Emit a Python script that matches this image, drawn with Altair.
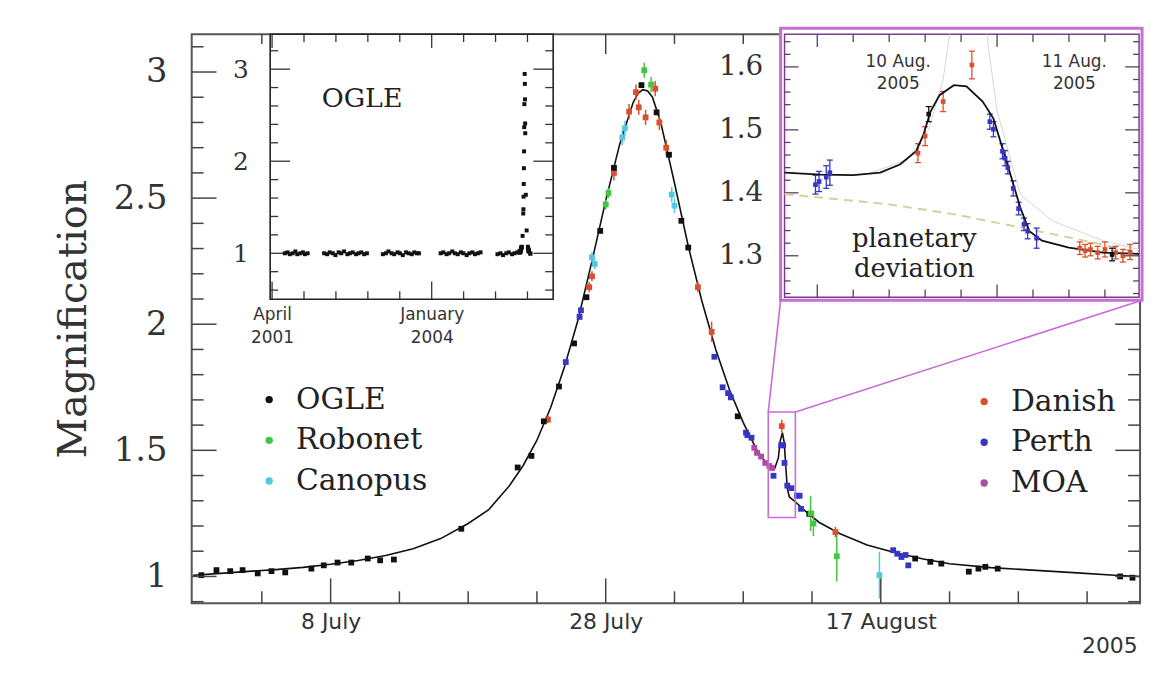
import altair as alt
import pandas as pd

# ================= values =================
# Main panel: time = HJD - 2453000  (8 July = 560, 28 July = 580, 17 August = 600)
CURVE_T = [550.0, 552, 554, 556, 558, 560, 562, 564, 566, 568,
           570, 571.5, 573, 574, 575, 576, 577, 578, 579, 580,
           581, 582, 582.35, 582.7, 583.05, 583.4, 584, 585, 586, 587,
           588, 589, 590, 591, 591.8, 592.3, 592.55, 592.7, 592.85, 592.98,
           593.1, 593.2, 593.35, 593.7, 594.5, 595.5, 597, 599, 601, 603,
           605, 608, 611, 614, 617, 618.85]
CURVE_A = [1.005, 1.012, 1.02, 1.027, 1.036, 1.048, 1.063, 1.083, 1.11, 1.15,
           1.21, 1.265, 1.36, 1.44, 1.54, 1.67, 1.83, 2.02, 2.25, 2.49,
           2.71, 2.88, 2.915, 2.93, 2.925, 2.90, 2.80, 2.56, 2.31, 2.09,
           1.90, 1.74, 1.61, 1.50, 1.44, 1.43, 1.47, 1.54, 1.57, 1.53,
           1.43, 1.35, 1.315, 1.30, 1.26, 1.215, 1.17, 1.125, 1.095, 1.07,
           1.05, 1.035, 1.025, 1.015, 1.005, 1.0]

OGLE_T = [550.6, 551.7, 552.7, 553.6, 554.7, 555.7, 556.7, 558.6, 559.5, 560.5,
          561.5, 562.7, 563.6, 564.6, 569.5, 573.6, 574.6, 575.5, 576.6, 577.7,
          578.6, 579.6, 580.6, 582.6, 583.7, 584.6, 585.5, 586.0, 589.6, 594.8,
          602.5, 603.6, 604.4, 606.4, 607.1, 607.6, 608.5, 617.4, 618.3]
OGLE_A = [1.005, 1.025, 1.021, 1.025, 1.012, 1.021, 1.016, 1.031, 1.044, 1.055,
          1.055, 1.071, 1.064, 1.067, 1.189, 1.432, 1.478, 1.615, 1.753, 1.924,
          2.107, 2.37, 2.62, 2.948, 2.84, 2.672, 2.41, 2.304, 1.635, 1.248,
          1.071, 1.058, 1.051, 1.019, 1.031, 1.038, 1.031, 1.0, 0.995]

ROBONET_T = [580.0, 580.2, 582.8, 583.3, 594.9, 595.1, 596.8]
ROBONET_A = [2.475, 2.52, 3.007, 2.95, 1.25, 1.21, 1.08]
ROBONET_E = [0.02, 0.02, 0.03, 0.03, 0.07, 0.05, 0.10]

CANOPUS_T = [579.0, 579.2, 581.2, 581.4, 584.8, 585.0, 599.9]
CANOPUS_A = [2.265, 2.239, 2.74, 2.777, 2.514, 2.47, 1.005]
CANOPUS_E = [0.02, 0.02, 0.03, 0.03, 0.03, 0.03, 0.093]

DANISH_T = [575.8, 578.8, 579.0, 580.6, 581.7, 582.2, 582.4, 582.9, 583.6, 583.9,
            584.4, 586.7, 587.7, 592.8, 596.7]
DANISH_A = [1.622, 2.147, 2.19, 2.60, 2.843, 2.92, 2.86, 2.82, 2.934, 2.80,
            2.70, 2.147, 1.97, 1.596, 1.176]
DANISH_E = [0.015, 0.02, 0.02, 0.03, 0.03, 0.03, 0.03, 0.03, 0.03, 0.03,
            0.03, 0.02, 0.04, 0.025, 0.02]

PERTH_T = [577.1, 578.1, 578.2, 587.9, 588.5, 588.9, 589.1, 590.2, 590.3, 590.6,
           592.2, 592.75, 592.9, 593.0, 593.2, 593.5, 593.9, 594.1, 594.2, 600.9,
           601.2, 601.5, 601.8, 602.0]
PERTH_A = [1.85, 2.029, 2.055, 1.871, 1.75, 1.727, 1.71, 1.57, 1.56, 1.55,
           1.399, 1.52, 1.52, 1.45, 1.36, 1.35, 1.32, 1.32, 1.268, 1.104,
           1.09, 1.077, 1.085, 1.044]

MOA_T = [590.8, 591.0, 591.3, 591.6, 591.9, 592.1]
MOA_A = [1.51, 1.49, 1.475, 1.45, 1.438, 1.43]

# OGLE archive (inset): time = HJD - 2450000
SEASON_T = [2080, 2097, 2111, 2129, 2146, 2158, 2177, 2193, 2206, 2223,
            2326, 2345, 2361, 2381, 2397, 2417, 2433, 2451, 2472, 2487, 2505, 2526, 2541, 2559, 2577, 2594,
            2694, 2713, 2729, 2749, 2765, 2786, 2801, 2819, 2839, 2855, 2875, 2891, 2908, 2920,
            3056, 3073, 3093, 3109, 3129, 3145, 3163, 3183, 3199, 3219, 3235, 3255, 3271, 3289, 3306,
            3412, 3431, 3447, 3467, 3483, 3503, 3519, 3537, 3551]
SEASON_A = [1.00, 1.01, 0.99, 1.00, 1.02, 0.99, 1.00, 1.01, 0.99, 1.00,
            1.00, 0.99, 1.01, 1.00, 0.98, 1.01, 1.00, 1.02, 0.99, 1.00, 1.01, 0.99, 1.00, 1.01, 0.99, 1.00,
            0.99, 1.00, 1.02, 1.00, 0.99, 1.01, 1.00, 0.98, 1.01, 1.00, 0.99, 1.01, 1.00, 1.00,
            1.00, 1.01, 0.99, 1.00, 1.02, 1.00, 0.99, 1.01, 1.00, 0.98, 1.00, 1.01, 0.99, 1.00, 1.01,
            0.99, 1.00, 0.98, 1.00, 1.01, 0.99, 1.00, 1.01, 1.02]
ARCHIVE_OFFSET = 3000  # main-panel OGLE points shifted to the archive time base

# Zoom on the planetary deviation: time = HJD - 2453000
ZCURVE_T = [591.818, 592.02, 592.20, 592.35, 592.46, 592.55, 592.59, 592.63, 592.68, 592.76,
            592.83, 592.92, 592.98, 593.03, 593.08, 593.13, 593.18, 593.25, 593.40, 593.59, 593.79]
ZCURVE_A = [1.432, 1.429, 1.428, 1.432, 1.445, 1.466, 1.492, 1.529, 1.555, 1.571,
            1.569, 1.545, 1.518, 1.471, 1.424, 1.376, 1.339, 1.324, 1.313, 1.305, 1.303]
ZSINGLE_T = [591.818, 592.39, 592.76, 593.13, 593.49, 593.79]
ZSINGLE_A = [1.398, 1.382, 1.366, 1.345, 1.324, 1.305]
ZALT_T = [592.30, 592.50, 592.62, 592.70, 592.76, 592.92, 593.0, 593.13, 593.31, 593.59, 593.79]
ZALT_A = [1.432, 1.452, 1.50, 1.58, 1.70, 1.70, 1.53, 1.397, 1.355, 1.324, 1.31]

ZPERTH_T = [591.99, 592.01, 592.05, 592.07, 592.96, 592.98, 593.03, 593.045, 593.06, 593.09,
            593.12, 593.15, 593.17, 593.22]
ZPERTH_A = [1.413, 1.418, 1.425, 1.432, 1.513, 1.501, 1.466, 1.455, 1.44, 1.407,
            1.375, 1.35, 1.339, 1.328]
ZPERTH_E = [0.015, 0.016, 0.018, 0.02, 0.012, 0.012, 0.012, 0.012, 0.01, 0.012,
            0.01, 0.01, 0.012, 0.016]
ZDANISH_T = [592.56, 592.6, 592.70, 592.86, 593.46, 593.49, 593.52, 593.56, 593.60, 593.66, 593.70, 593.74]
ZDANISH_A = [1.463, 1.49, 1.545, 1.603, 1.312, 1.308, 1.31, 1.305, 1.31, 1.305, 1.30, 1.306]
ZDANISH_E = [0.015, 0.015, 0.016, 0.022, 0.01, 0.01, 0.01, 0.01, 0.012, 0.01, 0.01, 0.012]
ZOGLE_T = [592.62, 593.64]
ZOGLE_A = [1.525, 1.302]
ZOGLE_E = [0.012, 0.01]

# names / colours
LEFT_OBS = ["OGLE", "Robonet", "Canopus"]
RIGHT_OBS = ["Danish", "Perth", "MOA"]
LEFT_COLORS = ["#111111", "#3fc83f", "#55c8e0"]
RIGHT_COLORS = ["#d9502f", "#3636c4", "#b04aa6"]
ALL_OBS = LEFT_OBS + RIGHT_OBS
ALL_COLORS = LEFT_COLORS + RIGHT_COLORS

# tick values and labels
MAIN_X_MAJOR = [560, 580, 600]
MAIN_X_LABELS = ["8 July", "28 July", "17 August"]
MAIN_X_MINOR = [555, 565, 570, 575, 585, 590, 595, 605, 610, 615]
MAIN_Y_MAJOR = [1, 1.5, 2, 2.5, 3]
MAIN_Y_MINOR = [0.9, 1.1, 1.2, 1.3, 1.4, 1.6, 1.7, 1.8, 1.9, 2.1, 2.2, 2.3, 2.4, 2.6, 2.7, 2.8, 2.9, 3.1]
OGLE_X_MAJOR = [2000, 3000]
OGLE_X_LABELS = [["April", "2001"], ["January", "2004"]]
OGLE_X_MINOR = [2200, 2400, 2600, 2800, 3200, 3400, 3600]
OGLE_Y_MAJOR = [1, 2, 3]
OGLE_Y_MINOR = [0.6, 0.8, 1.2, 1.4, 1.6, 1.8, 2.2, 2.4, 2.6, 2.8, 3.2]
ZOOM_X_MAJOR = [592.0, 593.0]
ZOOM_X_MINOR = [592.2, 592.4, 592.6, 592.8, 593.2, 593.4, 593.6]
ZOOM_Y_MAJOR = [1.3, 1.4, 1.5, 1.6]
ZOOM_Y_MINOR = [1.24, 1.26, 1.28, 1.32, 1.34, 1.36, 1.38, 1.42, 1.44, 1.46, 1.48,
                1.52, 1.54, 1.56, 1.58, 1.62, 1.64]
ZOOM_NOTES = ["10 Aug.\n2005", "11 Aug.\n2005"]
DEVIATION_NOTE = ["planetary", "deviation"]
OGLE_NOTE = ["OGLE"]

# ================= layout (pixels / axis ranges) =================
W, H = 955, 573
MAIN_T_RANGE = [549.9, 618.85]
MAIN_A_RANGE = [0.894, 3.15]
OGLE_T_RANGE = [1988, 3761]
OGLE_A_RANGE = [0.5, 3.38]
ZOOM_T_RANGE = [591.818, 593.79]
ZOOM_A_RANGE = [1.234, 1.652]
OGLE_BOX = (79, 364, 267, 0)      # x0, x1, y_bottom, y_top inside plot area
ZOOM_BOX = (597, 954, 265, 0)
ZOOM_NOTE_POS = ([592.45, 593.43], [1.621, 1.621])
DEV_NOTE_POS = ([592.54, 592.54], [1.3144, 1.2655])
OGLE_NOTE_POS = ([2564], [2.68])
SERIF = "DejaVu Serif"
SANS = "DejaVu Sans"
MAGENTA = "#c86cd6"


def S(domain, rng):
    return alt.Scale(domain=domain, range=rng, nice=False, zero=False)


def MX(): return S(MAIN_T_RANGE, [0, W])
def MY(): return S(MAIN_A_RANGE, [H, 0])
def OX(): return S(OGLE_T_RANGE, [OGLE_BOX[0], OGLE_BOX[1]])
def OY(): return S(OGLE_A_RANGE, [OGLE_BOX[2], OGLE_BOX[3]])
def ZX(): return S(ZOOM_T_RANGE, [ZOOM_BOX[0], ZOOM_BOX[1]])
def ZY(): return S(ZOOM_A_RANGE, [ZOOM_BOX[2], ZOOM_BOX[3]])


def label_expr(values, labels):
    out = "''"
    for v, lab in zip(values, labels):
        out = f"datum.value == {v} ? {lab!r} : ({out})"
    return out


def frame(obs, T, A, E=None):
    return pd.DataFrame({"t": T, "a": A, "e": E if E is not None else [0.0] * len(T), "obs": obs})


def yticks(values, yscale, x_px, length, direction, color="#444", width=1.5):
    xa, xb = (x_px, x_px + length) if direction > 0 else (x_px - length, x_px)
    return alt.Chart(pd.DataFrame({"v": values})).mark_rule(color=color, strokeWidth=width).encode(
        y=alt.Y("v:Q", scale=yscale, axis=None), x=alt.value(xa), x2=alt.value(xb))


def xticks(values, xscale, y_px, length, direction, color="#444", width=1.5):
    ya, yb = (y_px, y_px + length) if direction > 0 else (y_px - length, y_px)
    return alt.Chart(pd.DataFrame({"v": values})).mark_rule(color=color, strokeWidth=width).encode(
        x=alt.X("v:Q", scale=xscale, axis=None), y=alt.value(ya), y2=alt.value(yb))


ONE = pd.DataFrame({"k": [0]})
layers = []

# ---------------- main panel ----------------
layers.append(
    alt.Chart(pd.DataFrame({"t": CURVE_T, "a": CURVE_A})).mark_line(color="#111", strokeWidth=1.6).encode(
        x=alt.X("t:Q", scale=MX(), title="2005", axis=alt.Axis(
            orient="bottom", values=MAIN_X_MAJOR, labelExpr=label_expr(MAIN_X_MAJOR, MAIN_X_LABELS),
            domain=False, ticks=False, tickSize=0, grid=False, labelFont=SANS, labelFontSize=22,
            labelColor="#333", labelPadding=8, labelFlush=False, labelOverlap=False,
            titleFont=SANS, titleFontSize=22, titleFontWeight="normal", titleColor="#333",
            titleX=W - 3, titleY=50, titleAlign="right", titleBaseline="alphabetic", zindex=1)),
        y=alt.Y("a:Q", scale=MY(), title="Magnification", axis=alt.Axis(
            orient="left", values=MAIN_Y_MAJOR, format="~g", domain=False, ticks=False, tickSize=0,
            grid=False, labelFont=SERIF, labelFontSize=34, labelColor="#333", labelPadding=25,
            labelOverlap=False, titleFont=SERIF, titleFontSize=40, titleFontWeight="normal",
            titleColor="#333", titleAngle=270, titleX=-107, titleY=H / 2, titleAlign="center",
            titleBaseline="alphabetic", zindex=1)),
    )
)

main_left = pd.concat([frame("OGLE", OGLE_T, OGLE_A), frame("Robonet", ROBONET_T, ROBONET_A, ROBONET_E),
                       frame("Canopus", CANOPUS_T, CANOPUS_A, CANOPUS_E)])
main_right = pd.concat([frame("Danish", DANISH_T, DANISH_A, DANISH_E), frame("Perth", PERTH_T, PERTH_A),
                        frame("MOA", MOA_T, MOA_A)])
main_all = pd.concat([main_left, main_right])
err = main_all[main_all["e"] > 0].copy()
err["lo"] = err["a"] - err["e"]
err["hi"] = err["a"] + err["e"]

layers.append(
    alt.Chart(err).mark_rule(strokeWidth=1.5).encode(
        x=alt.X("t:Q", scale=MX(), axis=None), y=alt.Y("lo:Q", scale=MY(), axis=None), y2="hi:Q",
        color=alt.Color("obs:N", scale=alt.Scale(domain=ALL_OBS, range=ALL_COLORS), legend=None))
)


def group_points(df, domain, colors, lx, ly):
    return alt.Chart(df).mark_point(filled=True, shape="square", size=34, opacity=1).encode(
        x=alt.X("t:Q", scale=MX(), axis=None), y=alt.Y("a:Q", scale=MY(), axis=None),
        color=alt.Color("obs:N", scale=alt.Scale(domain=domain, range=colors), legend=alt.Legend(
            title=None, orient="none", legendX=lx, legendY=ly, direction="vertical",
            labelFont=SERIF, labelFontSize=30, labelColor="#222", symbolType="circle",
            symbolSize=55, symbolStrokeWidth=0, rowPadding=11, labelOffset=12, padding=0,
            labelLimit=400)))


layers.append(group_points(main_right, RIGHT_OBS, RIGHT_COLORS, 783, 355))
layers.append(group_points(main_left, LEFT_OBS, LEFT_COLORS, 63, 353))

# main ticks (inward, on all four sides)
layers += [
    yticks(MAIN_Y_MAJOR, MY(), 0, 25, +1), yticks(MAIN_Y_MINOR, MY(), 0, 12, +1),
    yticks(MAIN_Y_MAJOR, MY(), W, 25, -1), yticks(MAIN_Y_MINOR, MY(), W, 12, -1),
    xticks(MAIN_X_MAJOR, MX(), H, 25, -1), xticks(MAIN_X_MINOR, MX(), H, 12, -1),
    xticks(MAIN_X_MAJOR, MX(), 0, 20, +1), xticks(MAIN_X_MINOR, MX(), 0, 10, +1),
]

# zoom window in main panel + connectors
win = pd.DataFrame({"t0": [ZOOM_T_RANGE[0]], "t1": [ZOOM_T_RANGE[1]],
                    "a0": [ZOOM_A_RANGE[0]], "a1": [ZOOM_A_RANGE[1]]})
layers.append(
    alt.Chart(win).mark_rect(fillOpacity=0, stroke=MAGENTA, strokeWidth=1.6).encode(
        x=alt.X("t0:Q", scale=MX(), axis=None), x2="t1:Q",
        y=alt.Y("a0:Q", scale=MY(), axis=None), y2="a1:Q")
)
for t_end, px_end in [(ZOOM_T_RANGE[0], ZOOM_BOX[0] - 4), (ZOOM_T_RANGE[1], ZOOM_BOX[1] + 3)]:
    layers.append(
        alt.Chart(pd.DataFrame({"t": [t_end], "a": [ZOOM_A_RANGE[1]]})).mark_rule(
            color=MAGENTA, strokeWidth=1.6).encode(
            x=alt.X("t:Q", scale=MX(), axis=None), y=alt.Y("a:Q", scale=MY(), axis=None),
            x2=alt.value(px_end), y2=alt.value(ZOOM_BOX[2] + 3))
    )

# ---------------- OGLE archive inset ----------------
layers.append(
    alt.Chart(ONE).mark_rect(fill="white", stroke="#222", strokeWidth=1.6).encode(
        x=alt.value(OGLE_BOX[0]), x2=alt.value(OGLE_BOX[1]),
        y=alt.value(OGLE_BOX[3]), y2=alt.value(OGLE_BOX[2]))
)
layers += [
    yticks(OGLE_Y_MAJOR, OY(), OGLE_BOX[0], 20, +1, "#333", 1.3),
    yticks(OGLE_Y_MINOR, OY(), OGLE_BOX[0], 8, +1, "#333", 1.3),
    yticks(OGLE_Y_MAJOR, OY(), OGLE_BOX[1], 20, -1, "#333", 1.3),
    yticks(OGLE_Y_MINOR, OY(), OGLE_BOX[1], 8, -1, "#333", 1.3),
    xticks(OGLE_X_MAJOR, OX(), OGLE_BOX[2], 18, -1, "#333", 1.3),
    xticks(OGLE_X_MINOR, OX(), OGLE_BOX[2], 8, -1, "#333", 1.3),
    xticks(OGLE_X_MAJOR, OX(), OGLE_BOX[3], 14, +1, "#333", 1.3),
    xticks(OGLE_X_MINOR, OX(), OGLE_BOX[3], 8, +1, "#333", 1.3),
]
archive = pd.DataFrame({"t": SEASON_T + [t + ARCHIVE_OFFSET for t in OGLE_T],
                        "a": SEASON_A + OGLE_A})
layers.append(
    alt.Chart(archive).mark_point(filled=True, shape="square", size=16, color="#111", opacity=1).encode(
        x=alt.X("t:Q", scale=OX(), title=None, axis=alt.Axis(
            orient="bottom", offset=-(H - OGLE_BOX[2]), values=OGLE_X_MAJOR,
            labelExpr=label_expr(OGLE_X_MAJOR, OGLE_X_LABELS), domain=False, ticks=False, tickSize=0,
            grid=False, labelFont=SANS, labelFontSize=17, labelColor="#333", labelPadding=7,
            labelLineHeight=24, labelFlush=False, labelOverlap=False, zindex=1)),
        y=alt.Y("a:Q", scale=OY(), title=None, axis=alt.Axis(
            orient="left", offset=-OGLE_BOX[0], values=OGLE_Y_MAJOR, format="~g", domain=False,
            ticks=False, tickSize=0, grid=False, labelFont=SERIF, labelFontSize=25, labelColor="#333",
            labelPadding=22, labelOverlap=False, zindex=1)))
)
layers.append(
    alt.Chart(pd.DataFrame({"t": OGLE_NOTE_POS[0], "a": OGLE_NOTE_POS[1], "txt": OGLE_NOTE})).mark_text(
        font=SERIF, fontSize=27, color="#222", align="center", baseline="middle").encode(
        x=alt.X("t:Q", scale=OX(), axis=None), y=alt.Y("a:Q", scale=OY(), axis=None), text="txt:N")
)

# ---------------- planetary deviation inset ----------------
layers.append(
    alt.Chart(ONE).mark_rect(fill="white", stroke=MAGENTA, strokeWidth=3).encode(
        x=alt.value(ZOOM_BOX[0] - 4), x2=alt.value(ZOOM_BOX[1] + 3),
        y=alt.value(ZOOM_BOX[3] - 6), y2=alt.value(ZOOM_BOX[2] + 3))
)
layers.append(
    alt.Chart(ONE).mark_rect(fillOpacity=0, stroke="#7a3f8a", strokeWidth=1.5).encode(
        x=alt.value(ZOOM_BOX[0]), x2=alt.value(ZOOM_BOX[1]),
        y=alt.value(ZOOM_BOX[3]), y2=alt.value(ZOOM_BOX[2]))
)
TC = "#5a3a66"
layers += [
    yticks(ZOOM_Y_MAJOR, ZY(), ZOOM_BOX[0], 14, +1, TC, 1.3),
    yticks(ZOOM_Y_MINOR, ZY(), ZOOM_BOX[0], 6, +1, TC, 1.3),
    yticks(ZOOM_Y_MAJOR, ZY(), ZOOM_BOX[1], 14, -1, TC, 1.3),
    yticks(ZOOM_Y_MINOR, ZY(), ZOOM_BOX[1], 6, -1, TC, 1.3),
    xticks(ZOOM_X_MAJOR, ZX(), ZOOM_BOX[2], 13, -1, TC, 1.3),
    xticks(ZOOM_X_MINOR, ZX(), ZOOM_BOX[2], 8, -1, TC, 1.3),
    xticks(ZOOM_X_MAJOR, ZX(), ZOOM_BOX[3], 13, +1, TC, 1.3),
    xticks(ZOOM_X_MINOR, ZX(), ZOOM_BOX[3], 8, +1, TC, 1.3),
]
layers.append(
    alt.Chart(pd.DataFrame({"t": ZSINGLE_T, "a": ZSINGLE_A})).mark_line(
        color="#d8d09c", strokeWidth=2, strokeDash=[9, 6], clip=True).encode(
        x=alt.X("t:Q", scale=ZX(), axis=None), y=alt.Y("a:Q", scale=ZY(), axis=None))
)
layers.append(
    alt.Chart(pd.DataFrame({"t": ZALT_T, "a": ZALT_A})).mark_line(
        color="#d6d6d6", strokeWidth=1, clip=True).encode(
        x=alt.X("t:Q", scale=ZX(), axis=None), y=alt.Y("a:Q", scale=ZY(), axis=None))
)
zpts = pd.concat([frame("Perth", ZPERTH_T, ZPERTH_A, ZPERTH_E), frame("Danish", ZDANISH_T, ZDANISH_A, ZDANISH_E),
                  frame("OGLE", ZOGLE_T, ZOGLE_A, ZOGLE_E)])
zpts["lo"] = zpts["a"] - zpts["e"]
zpts["hi"] = zpts["a"] + zpts["e"]
zcolor = alt.Color("obs:N", scale=alt.Scale(domain=ALL_OBS, range=ALL_COLORS), legend=None)
layers.append(
    alt.Chart(zpts).mark_rule(strokeWidth=1.3).encode(
        x=alt.X("t:Q", scale=ZX(), axis=None), y=alt.Y("lo:Q", scale=ZY(), axis=None), y2="hi:Q",
        color=zcolor)
)
caps = pd.concat([zpts.assign(cap=zpts["lo"]), zpts.assign(cap=zpts["hi"])])
layers.append(
    alt.Chart(caps).mark_point(shape="M-1,0L1,0", filled=False, size=36, strokeWidth=1.3, opacity=1).encode(
        x=alt.X("t:Q", scale=ZX(), axis=None), y=alt.Y("cap:Q", scale=ZY(), axis=None), color=zcolor)
)
layers.append(
    alt.Chart(pd.DataFrame({"t": ZCURVE_T, "a": ZCURVE_A})).mark_line(
        color="#111", strokeWidth=1.8, clip=True).encode(
        x=alt.X("t:Q", scale=ZX(), axis=None),
        y=alt.Y("a:Q", scale=ZY(), title=None, axis=alt.Axis(
            orient="left", offset=-ZOOM_BOX[0], values=ZOOM_Y_MAJOR, format=".1f", domain=False,
            ticks=False, tickSize=0, grid=False, labelFont=SERIF, labelFontSize=28, labelColor="#333",
            labelPadding=22, labelOverlap=False, zindex=1)))
)
layers.append(
    alt.Chart(zpts).mark_point(filled=True, shape="square", size=22, opacity=1).encode(
        x=alt.X("t:Q", scale=ZX(), axis=None), y=alt.Y("a:Q", scale=ZY(), axis=None), color=zcolor)
)
layers.append(
    alt.Chart(pd.DataFrame({"t": ZOOM_NOTE_POS[0], "a": ZOOM_NOTE_POS[1], "txt": ZOOM_NOTES})).mark_text(
        font=SANS, fontSize=17, color="#333", align="center", baseline="top", lineBreak="\n",
        lineHeight=23).encode(
        x=alt.X("t:Q", scale=ZX(), axis=None), y=alt.Y("a:Q", scale=ZY(), axis=None), text="txt:N")
)
layers.append(
    alt.Chart(pd.DataFrame({"t": DEV_NOTE_POS[0], "a": DEV_NOTE_POS[1], "txt": DEVIATION_NOTE})).mark_text(
        font=SERIF, fontSize=26, color="#222", align="center", baseline="alphabetic").encode(
        x=alt.X("t:Q", scale=ZX(), axis=None), y=alt.Y("a:Q", scale=ZY(), axis=None), text="txt:N")
)

chart = alt.layer(*layers).resolve_scale(
    x="independent", y="independent", color="independent"
).properties(
    width=W, height=H,
    padding={"left": 185, "top": 24, "right": 8, "bottom": 74},
    autosize=alt.AutoSizeParams(type="none"),
    background="white",
).configure_view(stroke="#555", strokeWidth=2)

chart.save("out.html", embed_options={"renderer": "svg", "actions": False})
